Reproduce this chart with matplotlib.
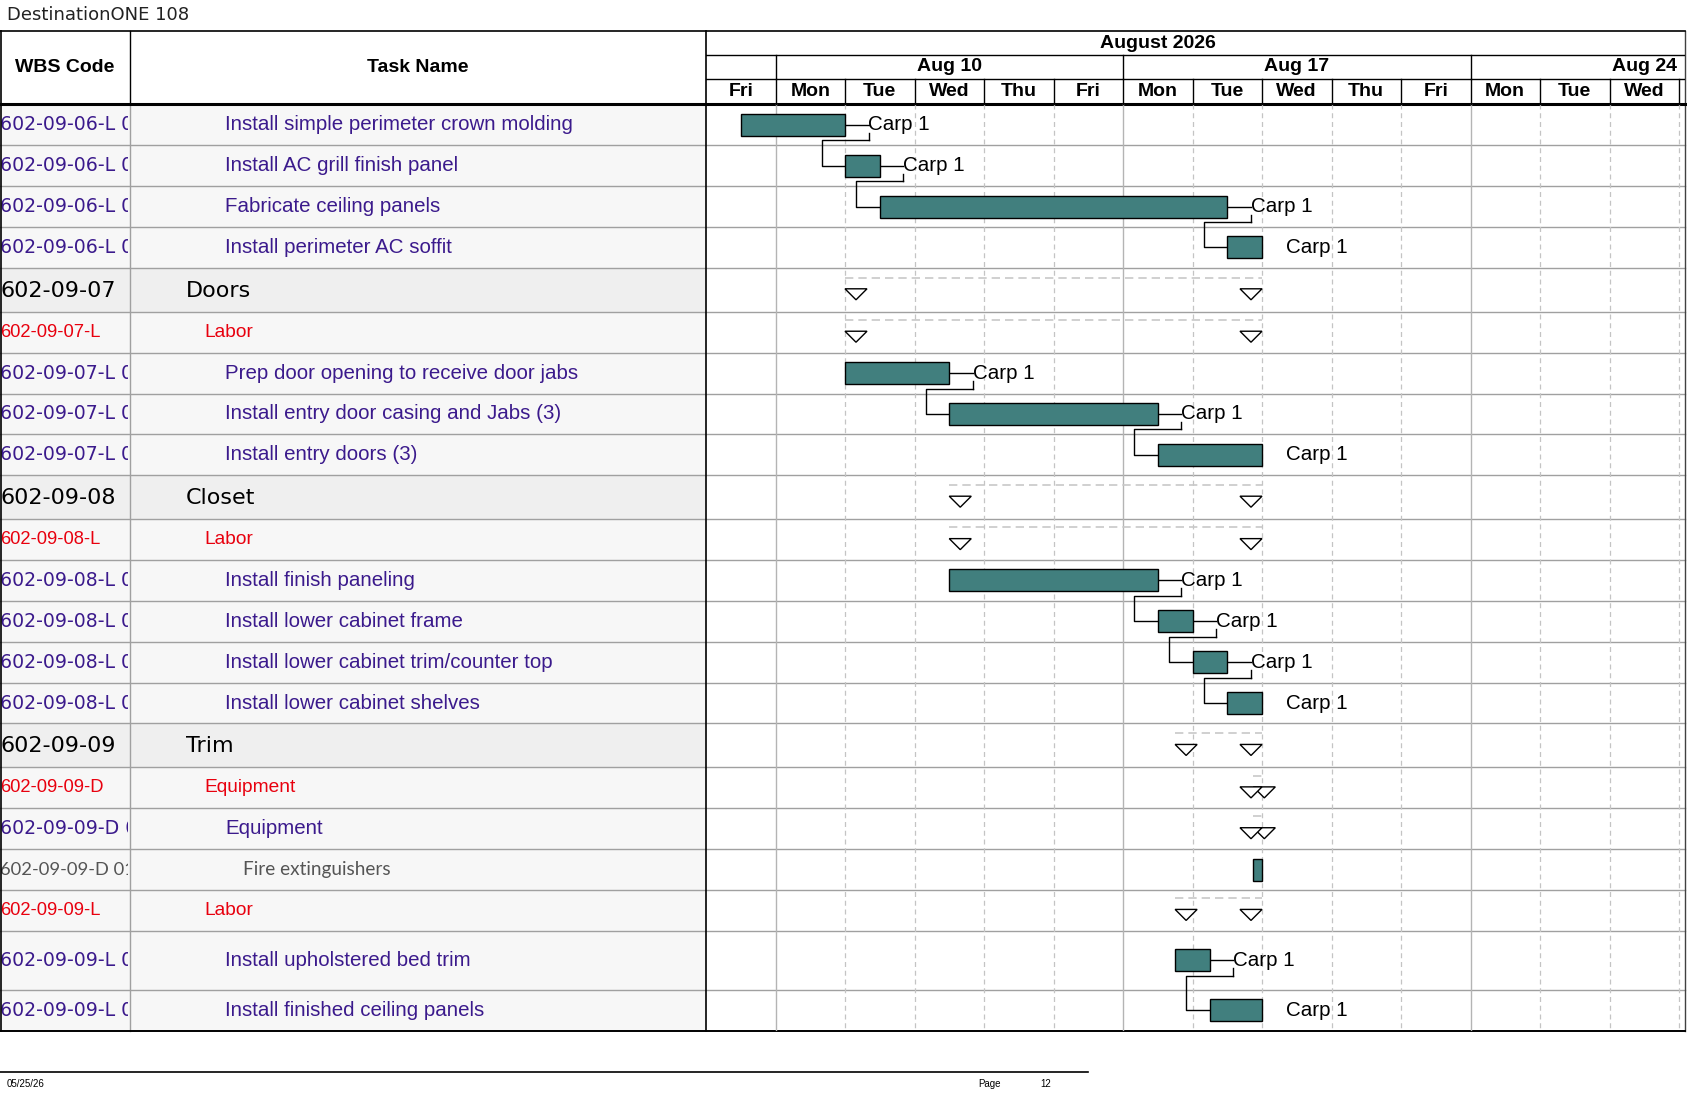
import matplotlib
matplotlib.use("Agg")
import matplotlib.pyplot as plt
from matplotlib.patches import Rectangle, Polygon

W, H = 1687, 1097

# ---------------- data ----------------
title = "DestinationONE 108"
col_headers = ["WBS Code", "Task Name"]
month_label = "August 2026"
month_span = [-4, 17]          # working-day index of Aug 3 .. end of Aug 31
week_labels = ["Aug 3", "Aug 10", "Aug 17", "Aug 24"]
week_starts = [-4, 1, 6, 11]   # working-day index (0 = Fri Aug 7)
day_names = ["Fri", "Mon", "Tue", "Wed", "Thu", "Fri", "Mon", "Tue",
             "Wed", "Thu", "Fri", "Mon", "Tue", "Wed", "Thu"]

wbs_codes = ["602-09-06-L 010", "602-09-06-L 020", "602-09-06-L 030", "602-09-06-L 040",
             "602-09-07", "602-09-07-L", "602-09-07-L 010", "602-09-07-L 020", "602-09-07-L 030",
             "602-09-08", "602-09-08-L", "602-09-08-L 010", "602-09-08-L 020", "602-09-08-L 030",
             "602-09-08-L 040",
             "602-09-09", "602-09-09-D", "602-09-09-D 01", "602-09-09-D 0101", "602-09-09-L",
             "602-09-09-L 010", "602-09-09-L 020"]
task_names = ["Install simple perimeter crown molding", "Install AC grill finish panel",
              "Fabricate ceiling panels", "Install perimeter AC soffit",
              "Doors", "Labor", "Prep door opening to receive door jabs",
              "Install entry door casing and Jabs (3)", "Install entry doors (3)",
              "Closet", "Labor", "Install finish paneling", "Install lower cabinet frame",
              "Install lower cabinet trim/counter top", "Install lower cabinet shelves",
              "Trim", "Equipment", "Equipment", "Fire extinguishers", "Labor",
              "Install upholstered bed trim", "Install finished ceiling panels"]
row_kinds = ["task", "task", "task", "task",
             "summary", "group", "task", "task", "task",
             "summary", "group", "task", "task", "task", "task",
             "summary", "group", "subgroup", "item", "group", "task", "task"]
starts = [0.5, 2.0, 2.5, 7.5,
          2.0, 2.0, 2.0, 3.5, 6.5,
          3.5, 3.5, 3.5, 6.5, 7.0, 7.5,
          6.75, 7.875, 7.875, 7.875, 6.75, 6.75, 7.25]
finishes = [2.0, 2.5, 7.5, 8.0,
            8.0, 8.0, 3.5, 6.5, 8.0,
            8.0, 8.0, 6.5, 7.0, 7.5, 8.0,
            8.0, 8.0, 8.0, 8.0, 8.0, 7.25, 8.0]
resources = ["Carp 1", "Carp 1", "Carp 1", "Carp 1",
             "", "", "Carp 1", "Carp 1", "Carp 1",
             "", "", "Carp 1", "Carp 1", "Carp 1", "Carp 1",
             "", "", "", "", "", "Carp 1", "Carp 1"]
links = [(0, 1), (1, 2), (2, 3), (6, 7), (7, 8), (11, 12), (12, 13), (13, 14), (20, 21)]

footer_date = "05/25/26"
footer_page = "12"

# ---------------- layout / style ----------------
ROW_H = {"summary": 44.0}
row_heights = []
for i, k in enumerate(row_kinds):
    h = ROW_H.get(k, 40.85)
    if task_names[i] == "Install upholstered bed trim":
        h = 59.1
    row_heights.append(h)

TOP = 31.0
HDR_BOT = 104.4
T1, T2 = 55.0, 78.5
X_WBS, X_TASK, X_CHART, X_RIGHT = 0.0, 130.0, 706.0, 1685.0
DAYPX = 69.5
GAP = 23.5 / DAYPX
TRI_W = 22.0 / DAYPX

PURPLE = "#3b1a8c"
RED = "#e8000e"
GREY_TXT = "#555555"
BAR = "#417f7e"
ARIAL = ["Liberation Sans", "DejaVu Sans"]
GOTHIC = ["DejaVu Sans"]
CALIBRI = ["Lato", "DejaVu Sans"]

row_tops = []
y = HDR_BOT
for h in row_heights:
    row_tops.append(y)
    y += h
BOTTOM = y
row_centers = [t + h / 2 for t, h in zip(row_tops, row_heights)]

fig = plt.figure(figsize=(W / 100, H / 100), dpi=100)
ax = fig.add_axes([0, 0, 1, 1])
ax.set_xlim(0, W)
ax.set_ylim(H, 0)
ax.axis("off")

# title
ax.text(7, 15, title, fontsize=13, family=GOTHIC, color="#222222", va="center", ha="left")

# row backgrounds
for t, h, k in zip(row_tops, row_heights, row_kinds):
    col = "#efefef" if k == "summary" else "#f7f7f7"
    ax.add_patch(Rectangle((X_WBS, t), X_CHART - X_WBS, h, facecolor=col, edgecolor="none", zorder=0))

# row lines
for t in row_tops[1:]:
    ax.plot([0, X_RIGHT], [t, t], color="#a0a0a0", lw=1, zorder=1)

# column dividers
ax.plot([X_TASK, X_TASK], [TOP, HDR_BOT], color="black", lw=1, zorder=2)
ax.plot([X_TASK, X_TASK], [HDR_BOT, BOTTOM], color="#a0a0a0", lw=1, zorder=2)
ax.plot([X_CHART, X_CHART], [TOP, BOTTOM], color="black", lw=1.2, zorder=5)
ax.plot([0.5, 0.5], [TOP, BOTTOM], color="black", lw=1.2, zorder=5)
ax.plot([X_RIGHT, X_RIGHT], [TOP, BOTTOM], color="#404040", lw=1, zorder=5)
ax.plot([0, X_RIGHT], [TOP, TOP], color="black", lw=1.2, zorder=5)
ax.plot([0, X_RIGHT], [HDR_BOT, HDR_BOT], color="black", lw=2.2, zorder=5)
ax.plot([0, X_RIGHT], [BOTTOM, BOTTOM], color="black", lw=1.4, zorder=5)

# column headers
ax.text((X_WBS + X_TASK) / 2, (TOP + HDR_BOT) / 2, col_headers[0], fontsize=14, weight="bold",
        family=ARIAL, ha="center", va="center")
ax.text((X_TASK + X_CHART) / 2, (TOP + HDR_BOT) / 2, col_headers[1], fontsize=14, weight="bold",
        family=ARIAL, ha="center", va="center")

# table text
clip_rect = Rectangle((0, HDR_BOT), X_TASK - 1.5, BOTTOM - HDR_BOT, transform=ax.transData)
for i, k in enumerate(row_kinds):
    yc = row_centers[i]
    if k == "summary":
        wt = ax.text(1, yc + 1, wbs_codes[i], fontsize=16, family=GOTHIC, color="black", va="center")
        ax.text(186, yc + 1, task_names[i], fontsize=16, family=GOTHIC, color="black", va="center")
    elif k == "group":
        wt = ax.text(0, yc, wbs_codes[i], fontsize=13.2, family=ARIAL, color=RED, va="center")
        ax.text(204, yc, task_names[i], fontsize=13.8, family=ARIAL, color=RED, va="center")
    elif k == "item":
        wt = ax.text(0, yc, wbs_codes[i], fontsize=13.2, family=CALIBRI, color=GREY_TXT, va="center")
        ax.text(243, yc, task_names[i], fontsize=13.7, family=CALIBRI, color=GREY_TXT, va="center")
    else:
        wt = ax.text(0, yc, wbs_codes[i], fontsize=13.6, family=GOTHIC, color=PURPLE, va="center")
        ax.text(225, yc, task_names[i], fontsize=14.8, family=ARIAL, color=PURPLE, va="center")
    wt.set_clip_on(True)
    wt.set_clip_path(clip_rect)

# footer
ax.plot([0, 1088], [1071.6, 1071.6], color="black", lw=1.2)
ax.text(7, 1084, footer_date, fontsize=7, family=ARIAL, va="center")
ax.text(978, 1084, "Page", fontsize=7, family=ARIAL, va="center")
ax.text(1040, 1084, footer_page, fontsize=7, family=ARIAL, va="center")

# ---------------- gantt axes ----------------
ndays = (X_RIGHT - X_CHART) / DAYPX
gx = fig.add_axes([X_CHART / W, 1 - BOTTOM / H, (X_RIGHT - X_CHART) / W, (BOTTOM - TOP) / H])
gx.set_xlim(0, ndays)
gx.set_ylim(BOTTOM, TOP)
gx.axis("off")
gx.patch.set_visible(False)

# timescale
gx.text((month_span[0] + month_span[1]) / 2, (TOP + T1) / 2, month_label, fontsize=14, weight="bold",
        family=ARIAL, ha="center", va="center")
gx.plot([0, ndays], [T1, T1], color="black", lw=1)
gx.plot([0, ndays], [T2, T2], color="black", lw=1)
for ws, wl in zip(week_starts, week_labels):
    if ws > 0:
        gx.plot([ws, ws], [T1, T2], color="black", lw=1)
    if 0 < ws + 2.5 < ndays:
        gx.text(ws + 2.5, (T1 + T2) / 2, wl, fontsize=14, weight="bold", family=ARIAL,
                ha="center", va="center")
for d, dn in enumerate(day_names):
    if d > 0:
        gx.plot([d, d], [T2, HDR_BOT], color="black", lw=1)
    if d + 0.8 < ndays:
        gx.text(d + 0.5, (T2 + HDR_BOT) / 2, dn, fontsize=14, weight="bold", family=ARIAL,
                ha="center", va="center")

# body grid
for d in range(1, len(day_names)):
    if d in week_starts:
        gx.plot([d, d], [HDR_BOT, BOTTOM], color="#b4b4b4", lw=1, zorder=1)
    else:
        gx.plot([d, d], [HDR_BOT, BOTTOM], color="#c4c4c4", lw=0.9, dashes=(4, 3), zorder=1)

# bars, summaries
for i, k in enumerate(row_kinds):
    yc = row_centers[i]
    s, f = starts[i], finishes[i]
    if k in ("task", "item"):
        gx.barh(yc, f - s, left=s, height=22, color=BAR, edgecolor="black", linewidth=1, zorder=3)
        if resources[i]:
            gx.text(f + GAP, yc, resources[i], fontsize=14.8, family=ARIAL, ha="left", va="center",
                    zorder=4)
    else:
        ty = yc + 4.5
        gx.plot([s, f], [yc - 12.3, yc - 12.3], color="#c8c8c8", lw=1.2, dashes=(5, 3), zorder=2)
        for pts in ([(s, ty - 5.5), (s + TRI_W, ty - 5.5), (s + TRI_W / 2, ty + 5.5)],
                    [(f - TRI_W, ty - 5.5), (f, ty - 5.5), (f - TRI_W / 2, ty + 5.5)]):
            gx.add_patch(Polygon(pts, closed=True, facecolor="white", edgecolor="black", lw=1, zorder=3))

# links (finish-to-start connectors)
for a, b in links:
    ya, yb = row_centers[a], row_centers[b]
    fa, sb = finishes[a], starts[b]
    yd = ya + 15.5
    gx.plot([fa, fa + GAP], [ya, ya], color="black", lw=1, zorder=2)
    gx.plot([fa + GAP, fa + GAP], [ya + 8, yd], color="black", lw=1, zorder=2)
    gx.plot([fa + GAP, sb - GAP, sb - GAP, sb], [yd, yd, yb, yb], color="black", lw=1, zorder=2)

fig.savefig("out.png", dpi=100)
